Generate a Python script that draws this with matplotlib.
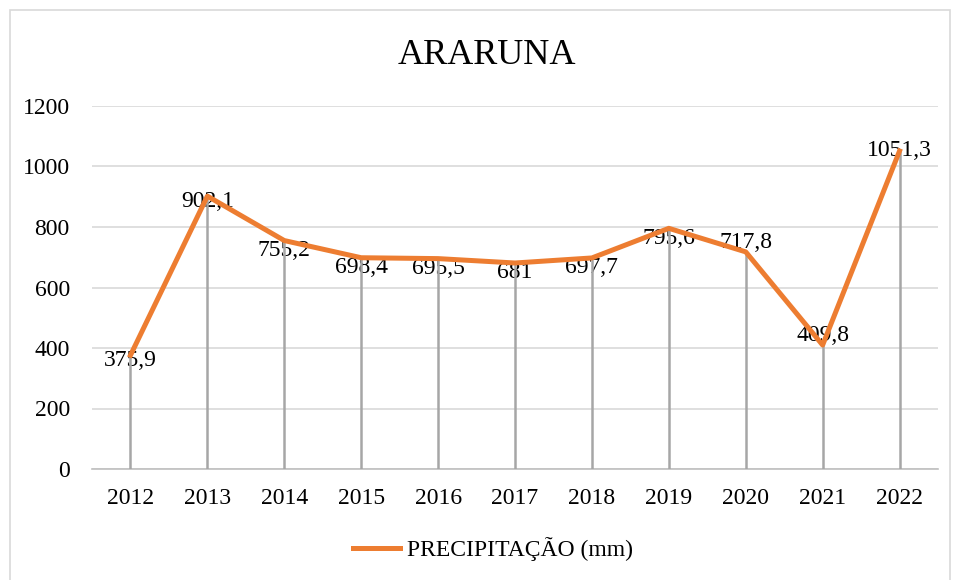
import numpy as np
import matplotlib.pyplot as plt
from matplotlib.lines import Line2D
from matplotlib.patches import Rectangle

# ===== DATA =====
years = ['2012', '2013', '2014', '2015', '2016', '2017', '2018', '2019', '2020', '2021', '2022']
precip = [375.9, 902.1, 755.2, 698.4, 695.5, 681.0, 697.7, 795.6, 717.8, 409.8, 1051.3]
labels = ['375,9', '902,1', '755,2', '698,4', '695,5', '681', '697,7', '795,6', '717,8', '409,8', '1051,3']
y_ticks = [0, 200, 400, 600, 800, 1000, 1200]

# label vertical offsets (points), as placed in the original
label_dy = [-4, -4, -7, -7, -7, -7, -7, -7, 6.5, 7, 0.5]

plt.rcParams['font.family'] = ['Liberation Serif', 'DejaVu Serif']

W, H = 954, 580
fig = plt.figure(figsize=(W / 100, H / 100), dpi=100)
fig.patches.append(Rectangle((10 / W, -0.01), 940 / W, 1 - 10 / H + 0.01,
                             transform=fig.transFigure, fill=False,
                             edgecolor='#d9d9d9', linewidth=1.2))

ax = fig.add_axes([92 / W, (H - 469) / H, 846 / W, 363 / H])
x = np.arange(len(years))

ax.set_xlim(-0.5, len(years) - 0.5)
ax.set_ylim(0, 1200)
ax.set_yticks(y_ticks)
ax.set_xticks(x)
ax.set_xticklabels(years)
ax.tick_params(length=0, labelsize=17, colors='#000000')
ax.tick_params(axis='y', pad=16)
ax.tick_params(axis='x', pad=14)
for s in ['top', 'right', 'left']:
    ax.spines[s].set_visible(False)
ax.spines['bottom'].set_color('#bfbfbf')
ax.spines['bottom'].set_linewidth(1.2)
ax.grid(axis='y', color='#d9d9d9', linewidth=1.2)
ax.set_axisbelow(True)

# data labels (drawn under the line and drop lines)
for xi, v, lab, dy in zip(x, precip, labels, label_dy):
    ax.annotate(lab, (xi, v), xytext=(0, dy), textcoords='offset points',
                ha='center', va='center', fontsize=17, zorder=2)

# drop lines
ax.vlines(x, 0, precip, color='#a6a6a6', linewidth=1.8, zorder=3)

ax.plot(x, precip, color='#ED7D31', linewidth=3.6, solid_joinstyle='round',
        zorder=4)

fig.text(487 / W, 1 - 55 / H, 'ARARUNA', ha='center', va='center', fontsize=26)

fig.legend([Line2D([0], [0], color='#ED7D31', linewidth=3.6)],
           ['PRECIPITAÇÃO (mm)'], loc='center',
           bbox_to_anchor=(493 / W, 1 - 549 / H), frameon=False,
           fontsize=17, handlelength=2.0, handletextpad=0.3)

fig.savefig('out.png', dpi=100, facecolor='white')
